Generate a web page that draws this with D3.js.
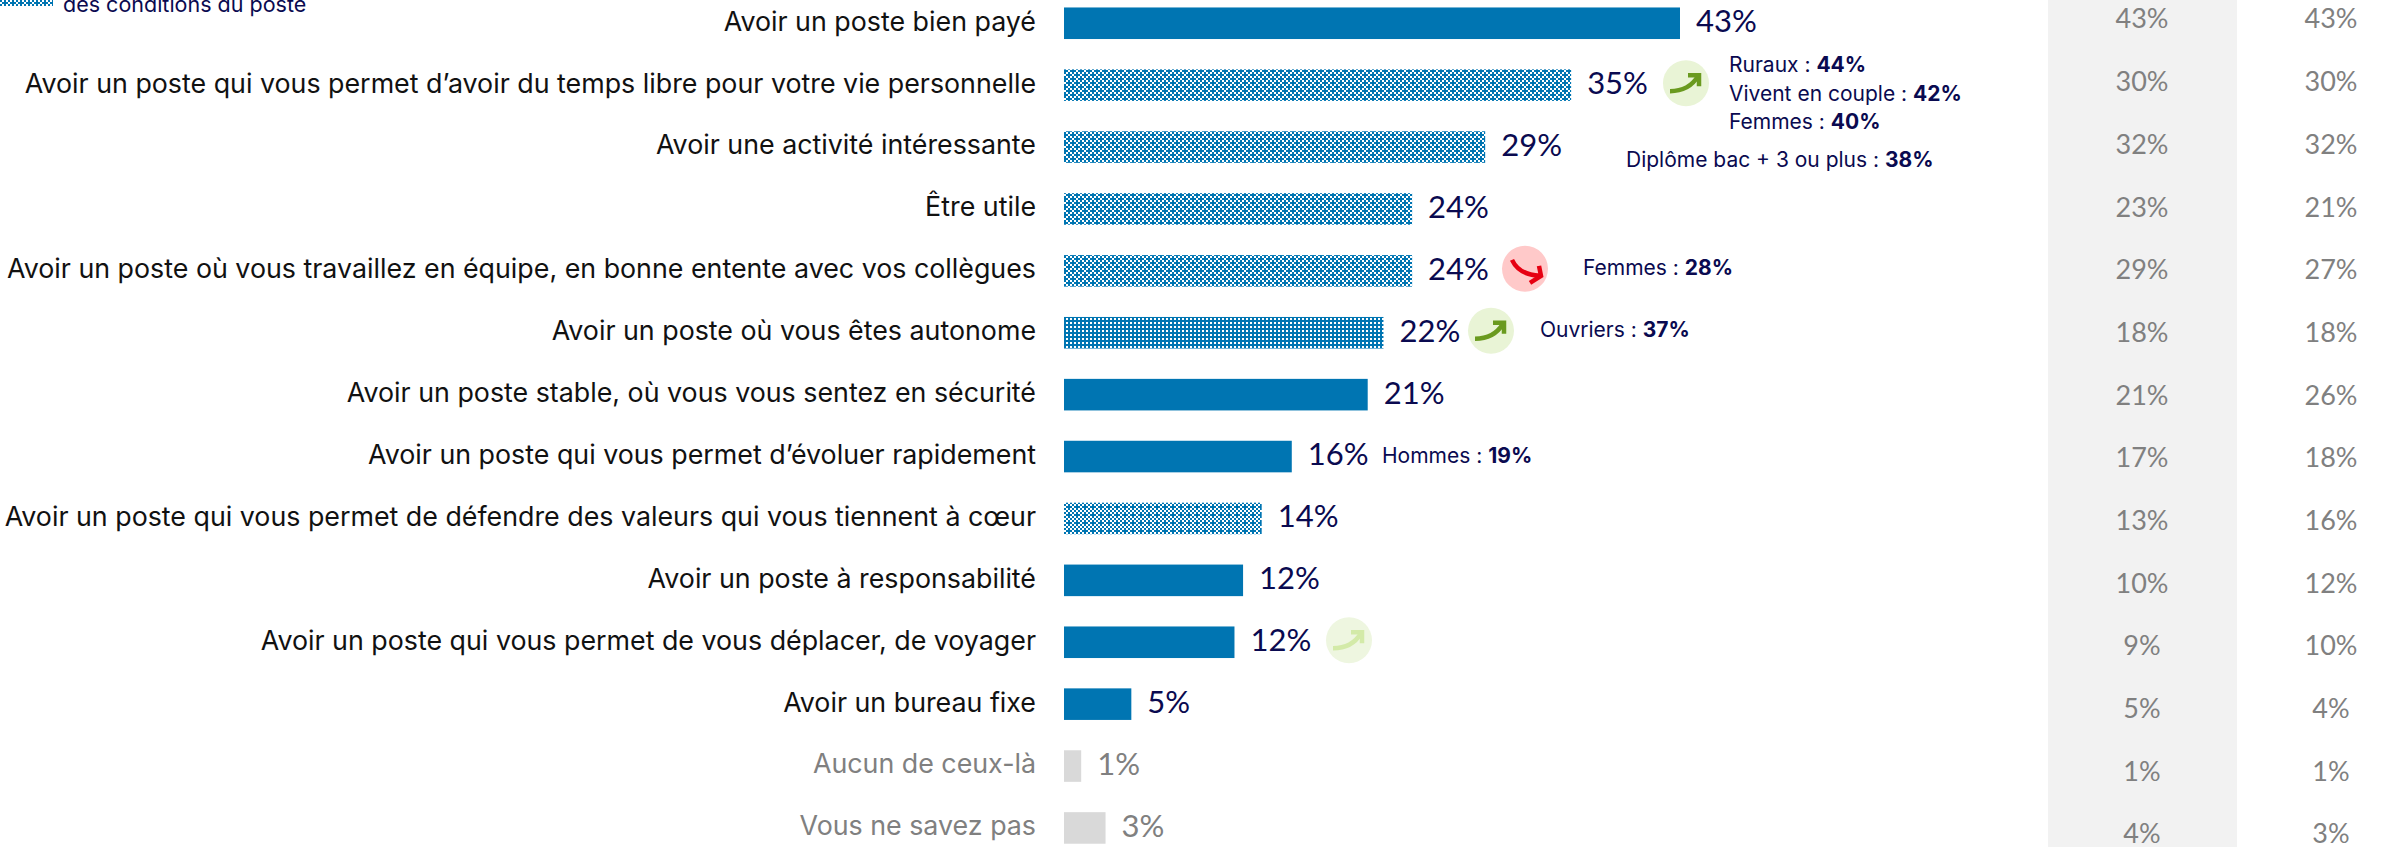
<!DOCTYPE html>
<html lang="fr">
<head>
<meta charset="utf-8">
<script src="https://cdnjs.cloudflare.com/ajax/libs/d3/7.8.5/d3.min.js"></script>
<style>
  html, body { margin: 0; padding: 0; background: #fff; }
</style>
</head>
<body>
<div id="chart"></div>
<script>
const categories = [
  "Avoir un poste bien payé",
  "Avoir un poste qui vous permet d’avoir du temps libre pour votre vie personnelle",
  "Avoir une activité intéressante",
  "Être utile",
  "Avoir un poste où vous travaillez en équipe, en bonne entente avec vos collègues",
  "Avoir un poste où vous êtes autonome",
  "Avoir un poste stable, où vous vous sentez en sécurité",
  "Avoir un poste qui vous permet d’évoluer rapidement",
  "Avoir un poste qui vous permet de défendre des valeurs qui vous tiennent à cœur",
  "Avoir un poste à responsabilité",
  "Avoir un poste qui vous permet de vous déplacer, de voyager",
  "Avoir un bureau fixe",
  "Aucun de ceux-là",
  "Vous ne savez pas"
];
// bar lengths, the printed labels are rounded on their own
const values = [43, 35.4, 29.4, 24.3, 24.3, 22.3, 21.2, 15.9, 13.8, 12.5, 11.9, 4.7, 1.2, 2.9];
const labels = ["43%", "35%", "29%", "24%", "24%", "22%", "21%", "16%", "14%", "12%", "12%", "5%", "1%", "3%"];
const fills = ["solid", "a", "a", "a", "a", "b", "solid", "solid", "c", "solid", "solid", "solid", "grey", "grey"];
const col1 = ["43%", "30%", "32%", "23%", "29%", "18%", "21%", "17%", "13%", "10%", "9%", "5%", "1%", "4%"];
const col2 = ["43%", "30%", "32%", "21%", "27%", "18%", "26%", "18%", "16%", "12%", "10%", "4%", "1%", "3%"];
const arrows = [null, "up", null, null, "down", "up", null, null, null, null, "faint", null, null, null];
const noteRows = [1, 1, 1, 2, 4, 5, 7];
const noteTexts = ["Ruraux : ", "Vivent en couple : ", "Femmes : ", "Diplôme bac + 3 ou plus : ", "Femmes : ", "Ouvriers : ", "Hommes : "];
const noteBold = ["44%", "42%", "40%", "38%", "28%", "37%", "19%"];

const width = 2394, height = 847;
const blue = "#0075b2", navy = "#0a0a50", mid = "#808080";
const labelFont = "Inter, sans-serif";
const numFont = "Lato, sans-serif";

// annotation placement, by note and by row
const noteX = [1729, 1729, 1729, 1626, 1583, 1540, 1382];
const noteDy = [-21, 8, 36, 13, -3, -3, -1];
const arrowX = { 1: 1686, 4: 1525, 5: 1491, 10: 1349 };

const x = d3.scaleLinear().domain([0, 43]).range([1064, 1680]);
const y = d3.scaleBand().domain(d3.range(categories.length))
    .range([7.5 - 15.2, 843.7 + 15.2]).paddingInner(0.49).paddingOuter(0.245);
const yCols = d3.scalePoint().domain(d3.range(categories.length)).range([19, 834]);

const svg = d3.select("#chart").append("svg")
    .attr("width", width)
    .attr("height", height)
    .style("display", "block");

const defs = svg.append("defs");
// each string is a row of 2px cells, X is blue
function addPattern(id, rows) {
  const size = rows.length * 2;
  const cells = [];
  rows.forEach((r, j) => r.split("").forEach((c, i) => { if (c === "X") cells.push([i, j]); }));
  const p = defs.append("pattern").attr("id", id)
      .attr("patternUnits", "userSpaceOnUse")
      .attr("width", size).attr("height", size);
  p.append("rect").attr("width", size).attr("height", size).attr("fill", "#fff");
  p.selectAll("rect.c").data(cells).join("rect").attr("class", "c")
      .attr("x", d => d[0] * 2).attr("y", d => d[1] * 2)
      .attr("width", 2).attr("height", 2)
      .attr("fill", blue);
}
addPattern("a", ["X.X.", ".XXX", "X.X.", "XX.X"]);
addPattern("b", ["XX", "X."]);
addPattern("c", ["X.X.", ".XXX", "X.X.", ".X.X"]);

// grey column
svg.append("rect").attr("x", 2048).attr("y", 0).attr("width", 189).attr("height", height).attr("fill", "#f2f2f2");

// legend remainder, cut by the top of the picture
svg.append("rect").attr("x", 0).attr("y", 0).attr("width", 53).attr("height", 6).attr("fill", "url(#a)");
svg.append("text").attr("x", 63).attr("y", 12)
    .attr("font-family", labelFont).attr("font-size", 21.5).attr("fill", navy)
    .text("des conditions du poste");

const row = svg.selectAll("g.row").data(categories).join("g").attr("class", "row");

row.append("text")
    .attr("x", 1036)
    .attr("y", (d, i) => y(i) + y.bandwidth() / 2 - 2)
    .attr("dy", "0.35em")
    .attr("text-anchor", "end")
    .attr("font-family", labelFont)
    .attr("font-size", 26.8)
    .attr("fill", (d, i) => fills[i] === "grey" ? mid : "#111")
    .text(d => d);

row.append("rect")
    .attr("x", x(0))
    .attr("y", (d, i) => y(i))
    .attr("width", (d, i) => x(values[i]) - x(0))
    .attr("height", y.bandwidth())
    .attr("fill", (d, i) => fills[i] === "solid" ? blue : fills[i] === "grey" ? "#d9d9d9" : `url(#${fills[i]})`);

row.append("text")
    .attr("x", (d, i) => x(values[i]) + 16)
    .attr("y", (d, i) => y(i) + y.bandwidth() / 2 - 2)
    .attr("dy", "0.35em")
    .attr("font-family", numFont)
    .attr("font-size", 31)
    .attr("fill", (d, i) => fills[i] === "grey" ? mid : navy)
    .text((d, i) => labels[i]);

// trend arrows beside the bars
const arrowStyle = {
  up: { bg: "#e9f4d6", line: "#6a9a1f", curve: "M-16,8Q3,8 12,-7", head: "M2,-8L13,-8L13,3" },
  faint: { bg: "#eef6e0", line: "#d3eaa8", curve: "M-16,8Q3,8 12,-7", head: "M2,-8L13,-8L13,3" },
  down: { bg: "#ffc9c9", line: "#e60012", curve: "M-13,-9Q-6,6 15,7", head: "M14,-3L16,7L5,14" }
};
arrows.forEach((a, i) => {
  if (!a) return;
  const st = arrowStyle[a];
  const g = svg.append("g").attr("transform", `translate(${arrowX[i]},${y(i) + y.bandwidth() / 2 - 2})`);
  g.append("ellipse").attr("rx", 23).attr("ry", 23).attr("fill", st.bg);
  g.selectAll("path").data([st.curve, st.head]).join("path")
      .attr("d", d => d)
      .attr("fill", "none")
      .attr("stroke", st.line)
      .attr("stroke-width", 4.5);
});

// notes
const note = svg.selectAll("text.note").data(noteTexts).join("text").attr("class", "note")
    .attr("x", (d, i) => noteX[i])
    .attr("y", (d, i) => y(noteRows[i]) + y.bandwidth() / 2 + noteDy[i])
    .attr("dy", "0.35em")
    .attr("font-family", labelFont)
    .attr("font-size", 21)
    .attr("fill", navy);
note.append("tspan").text(d => d);
note.append("tspan").attr("font-weight", 700).text((d, i) => noteBold[i]);

// comparison columns
[[col1, 2142], [col2, 2331]].forEach(([col, cx]) => {
  svg.selectAll(null).data(col).join("text")
      .attr("x", cx)
      .attr("y", (d, i) => yCols(i))
      .attr("dy", "0.35em")
      .attr("text-anchor", "middle")
      .attr("font-family", numFont)
      .attr("font-size", 27)
      .attr("fill", mid)
      .text(d => d);
});
</script>
</body>
</html>
